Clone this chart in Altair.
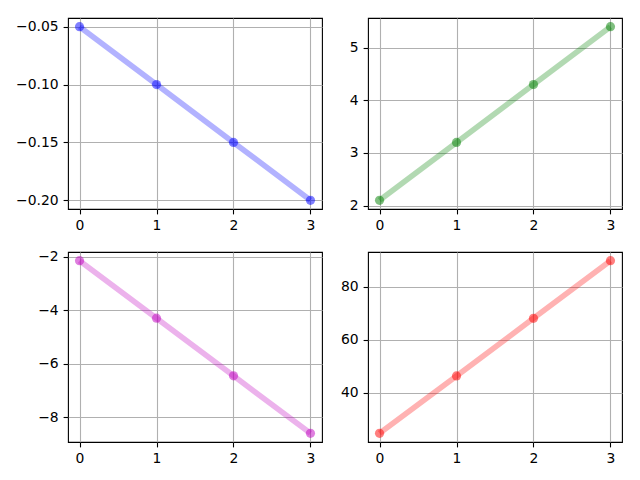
import altair as alt
import pandas as pd

x_vals = [0, 1, 2, 3]
tl_vals = [-0.05, -0.10, -0.15, -0.20]
tr_vals = [2.1, 3.2, 4.3, 5.4]
bl_vals = [-2.15, -4.3, -6.45, -8.6]
br_vals = [24.8, 46.4, 68.1, 89.8]
colors = ["#0000ff", "#008000", "#bf00bf", "#ff0000"]
tl_ticks = [-0.20, -0.15, -0.10, -0.05]
tr_ticks = [2, 3, 4, 5]
bl_ticks = [-8, -6, -4, -2]
br_ticks = [40, 60, 80]


def panel(ys, color, ticks, fmt, w, h, ext):
    df = pd.DataFrame({"x": x_vals, "y": ys})
    lo, hi = min(ys), max(ys)
    m = (hi - lo) * 0.05
    xenc = alt.X(
        "x:Q",
        scale=alt.Scale(domain=[-0.15, 3.15], nice=False, zero=False),
        axis=alt.Axis(values=x_vals, format="d", title=None,
                      minExtent=25, maxExtent=25, labelFlush=False),
    )
    yenc = alt.Y(
        "y:Q",
        scale=alt.Scale(domain=[lo - m, hi + m], nice=False, zero=False),
        axis=alt.Axis(values=ticks, format=fmt, title=None,
                      minExtent=ext, maxExtent=ext, labelFlush=False),
    )
    base = alt.Chart(df).encode(x=xenc, y=yenc)
    line = base.mark_line(color=color, strokeWidth=5.6, opacity=0.3)
    pts = base.mark_circle(color=color, size=85, opacity=0.5)
    return (line + pts).properties(width=w, height=h)


chart = alt.concat(
    panel(tl_vals, colors[0], tl_ticks, ".2f", 254, 191, 54),
    panel(tr_vals, colors[1], tr_ticks, "d", 254, 191, 36),
    panel(bl_vals, colors[2], bl_ticks, "d", 254, 190, 54),
    panel(br_vals, colors[3], br_ticks, "d", 254, 190, 36),
    columns=2,
    spacing={"row": 43, "column": 46},
    bounds="flush",
).properties(
    padding={"left": 5, "top": 6, "right": 5, "bottom": 5}
).configure_axis(
    grid=True, gridColor="#b0b0b0", gridWidth=1.1, domain=False,
    tickColor="black", tickSize=4.9, tickWidth=1.1,
    labelFont="DejaVu Sans", labelFontSize=13.9, labelColor="black",
    labelPadding=4.9,
).configure_view(stroke="black", strokeWidth=1.1)

chart.save("out.html", embed_options={"renderer": "svg", "actions": False})
